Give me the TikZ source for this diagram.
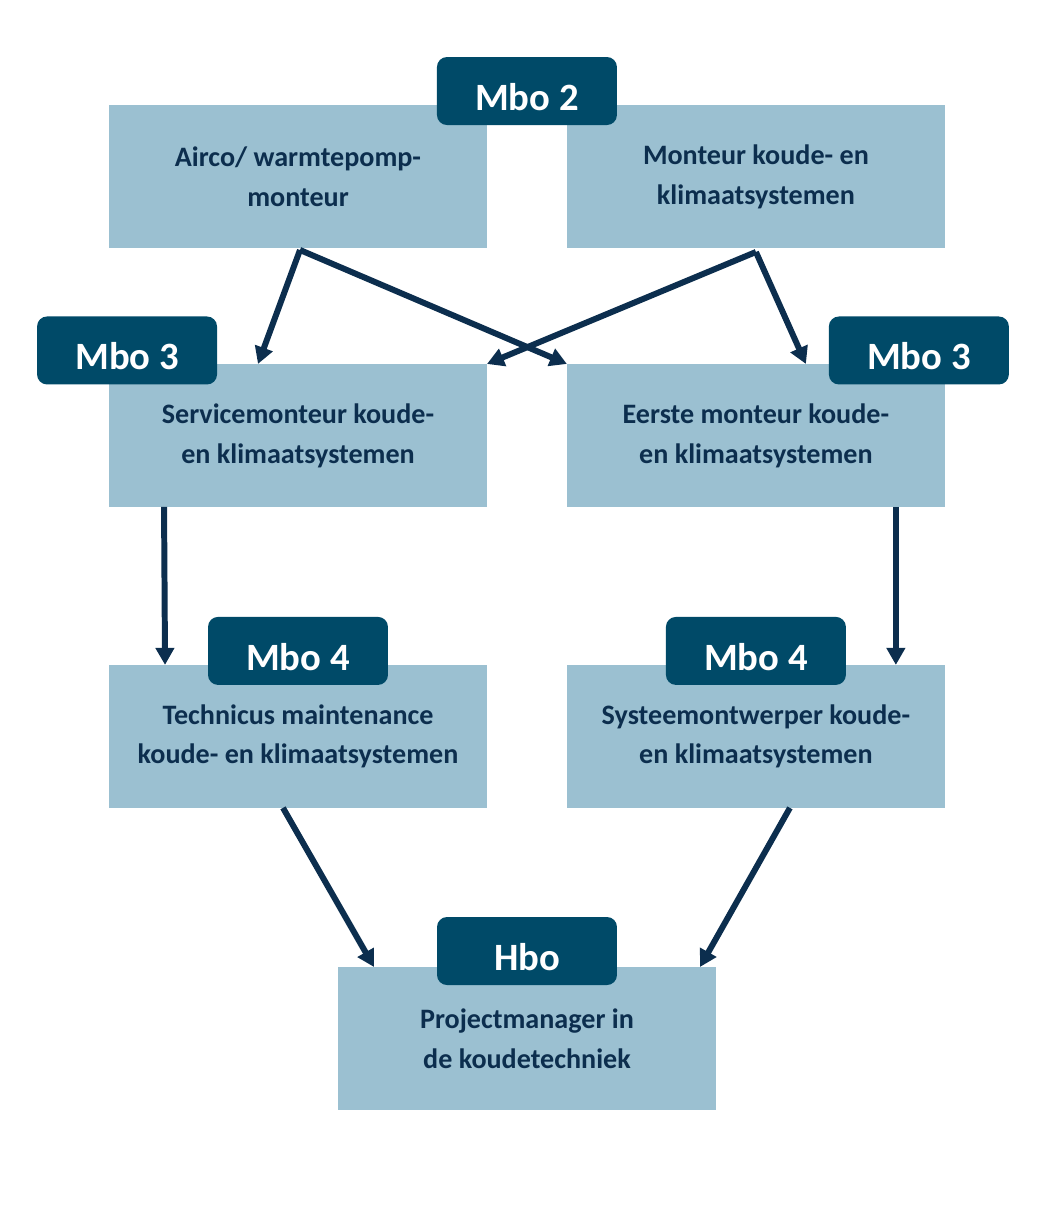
\documentclass[tikz,border=0pt]{standalone}
\usepackage{fontspec}
\setmainfont{Carlito}
\usetikzlibrary{positioning, calc, arrows.meta}

\definecolor{lichtblauw}{HTML}{9BC0D1}
\definecolor{donkerblauw}{HTML}{004A68}
\definecolor{tekstblauw}{HTML}{0C2E4E}

\begin{document}
\begin{tikzpicture}[x=0.02cm,y=-0.02cm,
  vak/.style={rectangle,fill=lichtblauw,text=tekstblauw,minimum width=7.56cm,minimum height=2.86cm,outer sep=0pt,align=center,font=\fontsize{16}{22.7}\selectfont\bfseries},
  niveau/.style={rectangle,fill=donkerblauw,text=white,minimum width=3.6cm,minimum height=1.36cm,text height=22pt,text depth=0pt,rounded corners=0.2cm,font=\fontsize{22}{26}\selectfont\bfseries},
  pijl/.style={draw=tekstblauw,line width=3.4pt,-{Triangle[length=0.34cm,width=0.36cm]}}]
  \useasboundingbox (0,0) rectangle (1043,1208);
  \node(airco)[vak] at (298,176.5) {Airco/ warmtepomp-\\monteur};
  \node(monteur)[vak,right=1.6cm of airco] {Monteur koude- en\\klimaatsystemen};
%
  \node(service)[vak,below=2.32cm of airco] {Servicemonteur koude-\\en klimaatsystemen};
  \node(eerste)[vak,right=1.6cm of service] {Eerste monteur koude-\\en klimaatsystemen};
%
  \node(technicus)[vak,below=3.16cm of service] {Technicus maintenance\\koude- en klimaatsystemen};
  \node(systeem)[vak,right=1.6cm of technicus] {Systeemontwerper koude-\\en klimaatsystemen};
%
  \node(project)[vak] at (527,1038.5) {Projectmanager in\\de koudetechniek};
%
  \node(mbotwee)[niveau] at ($(airco.north east)!0.5!(monteur.north west)+(0,-14)$) {Mbo 2};
  \node(mbodrieL)[niveau] at ($(service.north west)+(18,-13.5)$) {Mbo 3};
  \node(mbodrieR)[niveau] at ($(eerste.north east)+(-26,-13.5)$) {Mbo 3};
  \node(mbovierL)[niveau] at ($(technicus.north)+(0,-14)$) {Mbo 4};
  \node(mbovierR)[niveau] at ($(systeem.north)+(0,-14)$) {Mbo 4};
  \node(hbo)[niveau] at ($(project.north)+(0,-16)$) {Hbo};
%
\draw[pijl]($(airco.south)+(2,2)$)--($(service.north)+(-40,0)$);
\draw[pijl]($(airco.south)+(2,2)$)--(eerste.north west);
\draw[pijl]($(monteur.south)+(0,4)$)--(service.north east);
\draw[pijl]($(monteur.south)+(0,4)$)--($(eerste.north)+(50,0)$);
%
\draw[pijl]($(service.south west)+(55,0)$)--($(technicus.north west)+(56,0)$);
\draw[pijl]($(eerste.south east)+(-49,0)$)--($(systeem.north east)+(-49,0)$);
%
\draw[pijl]($(technicus.south)+(-15,0)$)--($(project.north west)+(36,0)$);
\draw[pijl]($(systeem.south)+(34,0)$)--($(project.north east)+(-16,0)$);
\end{tikzpicture}
\end{document}
